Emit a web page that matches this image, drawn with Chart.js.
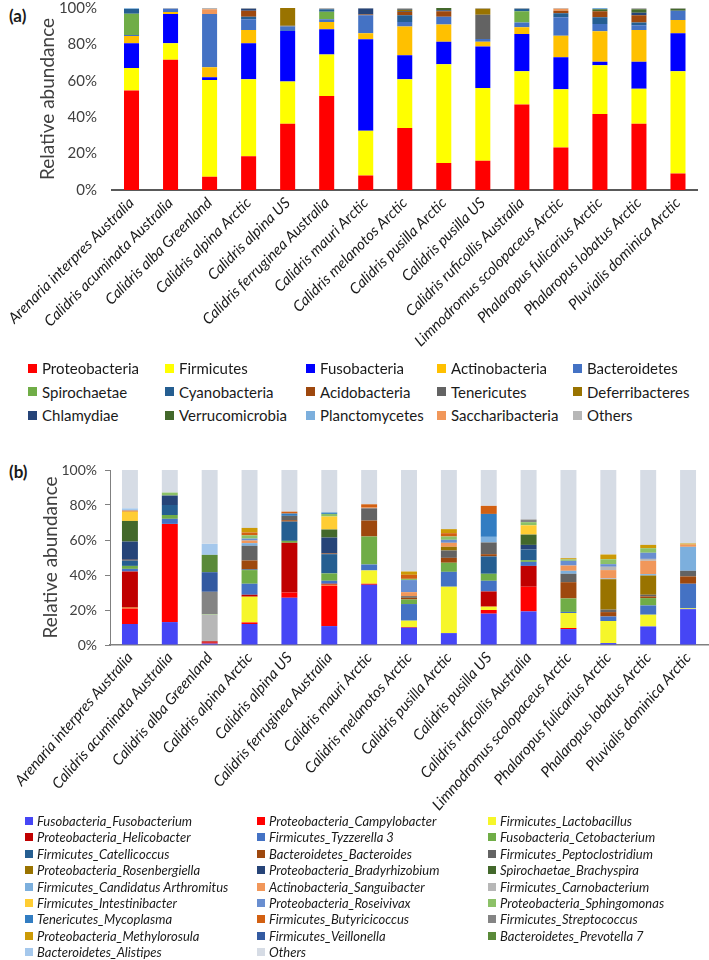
<!DOCTYPE html>
<html>
<head>
<meta charset="utf-8">
<script src="https://cdn.jsdelivr.net/npm/chart.js@4.4.0/dist/chart.umd.min.js"></script>
<style>
  body { margin:0; background:#fff; width:709px; height:960px; position:relative; overflow:hidden;
         font-family:Lato, "Open Sans", sans-serif; color:#1a1a1a; }
  canvas { position:absolute; left:0; }
  .tag { position:absolute; left:9px; font-weight:bold; font-size:17px; line-height:1; }
  .item { position:absolute; display:flex; align-items:center; white-space:nowrap; transform:translateY(-50%); }
  .item span { display:inline-block; flex:none; }
  .legA { font-size:15px; }
  .legA span { width:9px; height:9px; margin-right:5px; }
  .legB { font-size:13px; font-style:italic; }
  .legB span { width:8px; height:8px; margin-right:4px; }
</style>
</head>
<body>
<div class="tag" style="top:7px">(a)</div>
<canvas id="chartA" width="709" height="375" style="top:0"></canvas>
<div id="legendA"></div>
<div class="tag" style="top:463px">(b)</div>
<canvas id="chartB" width="709" height="365" style="top:455px"></canvas>
<div id="legendB"></div>
<script>
/* ---------- categories ---------- */
const birds = [
  "Arenaria interpres Australia", "Calidris acuminata Australia", "Calidris alba Greenland",
  "Calidris alpina Arctic", "Calidris alpina US", "Calidris ferruginea Australia",
  "Calidris mauri Arctic", "Calidris melanotos Arctic", "Calidris pusilla Arctic",
  "Calidris pusilla US", "Calidris ruficollis Australia", "Limnodromus scolopaceus Arctic",
  "Phalaropus fulicarius Arctic", "Phalaropus lobatus Arctic", "Pluvialis dominica Arctic"
];
const yTicks = [0, 20, 40, 60, 80, 100];

/* ---------- (a) phyla, % per bird ---------- */
const proteobacteria   = [54.7, 71.5, 7.3, 18.5, 36.4, 51.7, 7.9, 34.0, 14.8, 16.1, 47.0, 23.4, 41.7, 36.4, 9.0];
const firmicutes       = [12.4, 9.1, 53.2, 42.4, 23.2, 22.7, 24.6, 26.9, 54.3, 40.0, 18.3, 32.0, 26.9, 19.2, 56.3];
const fusobacteria     = [13.5, 16.1, 1.5, 19.7, 27.8, 13.9, 50.3, 13.1, 12.3, 22.7, 20.4, 17.5, 1.8, 14.8, 20.8];
const actinobacteria   = [4.0, 1.1, 5.5, 7.3, 0, 4.0, 3.3, 15.8, 9.6, 2.6, 3.7, 11.9, 16.8, 17.5, 7.3];
const bacteroidetes    = [0.5, 1.8, 29.2, 5.9, 2.4, 1.5, 9.9, 2.5, 4.2, 1.6, 2.6, 10.1, 4.0, 2.6, 5.1];
const spirochaetae     = [11.8, 0, 0, 0, 0, 4.2, 0, 0, 0, 0, 6.2, 0, 0, 0, 0];
const cyanobacteria    = [2.6, 0, 0, 1.4, 0, 1.3, 0, 3.7, 0, 0, 1.4, 2.2, 3.7, 1.5, 0];
const acidobacteria    = [0, 0, 0, 3.3, 0, 0, 0.4, 1.8, 3.0, 0, 0, 1.4, 3.3, 4.0, 0];
const tenericutes      = [0, 0, 0, 0, 0.5, 0, 0, 0.5, 0, 13.3, 0, 0, 0, 0, 0];
const deferribacteres  = [0, 0, 0, 0, 9.7, 0, 0, 0.7, 0, 3.3, 0, 0, 0, 0, 0];
const chlamydiae       = [0, 0, 0, 1.1, 0, 0, 3.3, 0.5, 0.6, 0, 0, 0, 0, 1.4, 0];
const verrucomicrobia  = [0, 0, 0, 0, 0, 0, 0, 0, 1.2, 0, 0, 0, 1.1, 1.9, 1.1];
const planctomycetes   = [0.3, 0, 0, 0, 0, 0, 0, 0, 0, 0, 0, 0, 0.7, 0, 0];
const saccharibacteria = [0, 0, 2.6, 0, 0, 0, 0, 0, 0, 0, 0, 1.1, 0, 0, 0];
const othersA          = [0.2, 0.4, 0.7, 0.4, 0, 0.7, 0.3, 0.5, 0, 0.4, 0.4, 0.4, 0, 0.7, 0.4];

const phylumNames = ["Proteobacteria", "Firmicutes", "Fusobacteria", "Actinobacteria", "Bacteroidetes",
  "Spirochaetae", "Cyanobacteria", "Acidobacteria", "Tenericutes", "Deferribacteres",
  "Chlamydiae", "Verrucomicrobia", "Planctomycetes", "Saccharibacteria", "Others"];
const phylumSeries = [proteobacteria, firmicutes, fusobacteria, actinobacteria, bacteroidetes,
  spirochaetae, cyanobacteria, acidobacteria, tenericutes, deferribacteres,
  chlamydiae, verrucomicrobia, planctomycetes, saccharibacteria, othersA];

/* ---------- (b) genera, % per bird ---------- */
const fusobacterium    = [12.0, 13.1, 0.8, 12.0, 27.0, 10.8, 34.4, 9.9, 6.8, 17.9, 19.2, 9.1, 1.1, 10.6, 20.5];
const campylobacter    = [8.9, 56.1, 0.5, 0.9, 3.0, 23.2, 0.6, 0.4, 0, 2.1, 14.1, 0.6, 0, 0, 0];
const lactobacillus    = [0.4, 0, 0, 14.7, 0, 0.4, 7.6, 3.6, 26.5, 1.9, 0, 8.6, 12.6, 6.7, 0.4];
const helicobacter     = [20.7, 0, 0.8, 1.1, 28.4, 0.6, 0, 0, 0, 8.7, 11.9, 0, 0, 0, 0];
const tyzzerella       = [1.5, 2.9, 0, 6.3, 0, 1.7, 3.4, 9.5, 8.5, 6.1, 2.3, 0.6, 2.6, 5.3, 14.1];
const cetobacterium    = [1.7, 2.2, 0, 7.8, 1.1, 4.2, 16.0, 2.6, 5.2, 4.0, 1.0, 7.7, 0, 4.2, 0];
const catellicoccus    = [3.1, 5.7, 0, 0.4, 11.0, 11.0, 0, 0, 0, 9.9, 6.1, 0, 0, 0, 0];
const bacteroides      = [0.4, 0, 0, 5.1, 0.8, 0.4, 9.1, 1.0, 2.8, 1.3, 0, 9.3, 2.5, 1.0, 4.2];
const peptoclostridium = [0, 0, 0, 8.4, 2.5, 0, 7.0, 0.9, 4.2, 6.7, 0, 4.8, 1.4, 0.9, 3.2];
const rosenbergiella   = [0, 0, 0, 0, 0, 0, 0, 0, 2.1, 0, 0, 0, 17.4, 11.0, 0];
const bradyrhizobium   = [10.4, 5.4, 0, 0, 0, 9.1, 0, 0, 0, 0, 2.6, 0, 0, 0, 0];
const brachyspira      = [11.8, 0, 0, 0, 0, 4.6, 0, 0, 0, 0, 5.9, 0, 0, 0, 0];
const arthromitus      = [0, 0, 0, 1.5, 0, 0, 0, 0, 0, 3.2, 0, 1.7, 0.4, 0.8, 13.7];
const sanguibacter     = [0, 0, 0, 1.5, 0, 0, 0.4, 2.3, 2.3, 0, 0, 3.0, 4.8, 7.6, 1.3];
const carnobacterium   = [0, 0, 15.2, 0, 0, 0, 0, 0, 0, 0, 0, 0, 1.9, 1.1, 0];
const intestinibacter  = [5.3, 0, 0, 0, 0, 7.4, 0, 0, 0, 0, 5.3, 0, 0, 0, 0];
const roseivivax       = [0, 0, 0, 1.1, 0, 0, 0, 6.9, 1.7, 0, 0, 2.7, 1.5, 3.5, 0];
const sphingomonas     = [0, 1.7, 0.3, 1.9, 0, 1.5, 0, 0.7, 1.9, 0, 1.8, 0.8, 2.8, 2.6, 0];
const mycoplasma       = [0, 0, 0, 0, 1.3, 0.8, 0, 0, 0, 13.1, 0, 0, 0, 0, 0];
const butyricicoccus   = [0.6, 0, 0, 1.6, 1.1, 0, 1.9, 2.3, 1.9, 4.6, 0, 0, 0, 0, 0];
const streptococcus    = [0, 0, 12.8, 0, 0, 0, 0, 0, 0, 0, 1.5, 0, 0, 0, 0];
const methylorosula    = [0, 0, 0, 2.6, 0, 0, 0, 1.9, 2.3, 0, 0, 0.7, 2.7, 1.9, 0.6];
const veillonella      = [0, 0, 11.2, 0, 0, 0, 0, 0, 0, 0, 0, 0, 0, 0, 0];
const prevotella       = [0, 0, 9.9, 0, 0, 0, 0, 0, 0, 0, 0, 0, 0, 0, 0];
const alistipes        = [1.3, 0, 6.3, 0, 0, 0, 0, 0, 0, 0, 0, 0, 0, 0, 0];
const othersB          = [21.9, 12.9, 42.2, 33.1, 23.8, 24.3, 19.6, 58.0, 33.8, 20.5, 28.3, 50.4, 48.3, 42.8, 42.0];

const genusNames = ["Fusobacteria_Fusobacterium", "Proteobacteria_Campylobacter", "Firmicutes_Lactobacillus",
  "Proteobacteria_Helicobacter", "Firmicutes_Tyzzerella 3", "Fusobacteria_Cetobacterium",
  "Firmicutes_Catellicoccus", "Bacteroidetes_Bacteroides", "Firmicutes_Peptoclostridium",
  "Proteobacteria_Rosenbergiella", "Proteobacteria_Bradyrhizobium", "Spirochaetae_Brachyspira",
  "Firmicutes_Candidatus Arthromitus", "Actinobacteria_Sanguibacter", "Firmicutes_Carnobacterium",
  "Firmicutes_Intestinibacter", "Proteobacteria_Roseivivax", "Proteobacteria_Sphingomonas",
  "Tenericutes_Mycoplasma", "Firmicutes_Butyricicoccus", "Firmicutes_Streptococcus",
  "Proteobacteria_Methylorosula", "Firmicutes_Veillonella", "Bacteroidetes_Prevotella 7",
  "Bacteroidetes_Alistipes", "Others"];
const genusSeries = [fusobacterium, campylobacter, lactobacillus, helicobacter, tyzzerella, cetobacterium,
  catellicoccus, bacteroides, peptoclostridium, rosenbergiella, bradyrhizobium, brachyspira,
  arthromitus, sanguibacter, carnobacterium, intestinibacter, roseivivax, sphingomonas,
  mycoplasma, butyricicoccus, streptococcus, methylorosula, veillonella, prevotella,
  alistipes, othersB];

/* ---------- palettes ---------- */
const phylumColors = ["#ff0000", "#ffff00", "#0000ff", "#ffc000", "#4472c4", "#70ad47", "#255e91",
  "#9e480e", "#636363", "#997300", "#264478", "#43682b", "#7cafdd", "#f1975a", "#b7b7b7"];
const genusColors = ["#4646f5", "#ff0000", "#f6f62a", "#c00000", "#4472c4", "#70ad47", "#255e91",
  "#9e480e", "#636363", "#997300", "#264478", "#43682b", "#7cafdd", "#f1975a", "#b7b7b7",
  "#ffcd33", "#698ed0", "#8cc168", "#327dc2", "#d26012", "#848484", "#cc9a06", "#335aa1",
  "#5a8a39", "#a5c8ec", "#d6dce5"];

/* ---------- helpers ---------- */
const $ = id => document.getElementById(id);
const FONT = "Lato";

function sets (names, series, colors, barPct) {
  return names.map((n, i) => ({
    label: n, data: series[i], backgroundColor: colors[i],
    borderWidth: 0, barPercentage: barPct, categoryPercentage: 1
  }));
}

function stackedChart (canvas, datasets, o) {
  return new Chart(canvas, {
    type: "bar",
    data: { labels: birds, datasets },
    options: {
      responsive: false, animation: false,
      layout: { padding: o.pad },
      plugins: { legend: { display: false }, tooltip: { enabled: false } },
      scales: {
        x: {
          stacked: true,
          grid: { display: false, drawTicks: false },
          border: { color: o.axisColor, width: o.axisWidth },
          ticks: { autoSkip: false, minRotation: o.rot, maxRotation: o.rot, padding: o.xPad,
                   color: "#1a1a1a", font: { family: FONT, size: o.xSize, style: "italic" } },
          afterFit: s => { s.height = o.xHeight; s.paddingLeft = 0; s.paddingRight = 0; }
        },
        y: {
          stacked: true, min: 0, max: 100,
          afterBuildTicks: s => { s.ticks = yTicks.map(v => ({ value: v })); },
          ticks: { callback: v => v + "%", padding: o.yPad, color: "#404040",
                   font: { family: FONT, size: o.ySize } },
          grid: o.yLine ? { drawOnChartArea: false, drawTicks: true, tickLength: 5, color: o.axisColor }
                        : { display: false, drawTicks: false },
          border: { display: o.yLine, color: o.axisColor, width: 1 },
          title: { display: true, text: "Relative abundance", color: "#404040",
                   font: { family: FONT, size: 19 }, padding: { top: o.titlePad, bottom: 0 } },
          afterFit: s => { s.width = o.yWidth; s.paddingTop = 0; s.paddingBottom = 0; }
        }
      }
    }
  });
}

function legend (el, names, colors, cls, colX, row0, rowH) {
  const cols = colX.length;
  el.innerHTML = names.map((n, i) =>
    `<div class="item ${cls}" style="left:${colX[i % cols]}px;top:${row0 + Math.floor(i / cols) * rowH}px">` +
    `<span style="background:${colors[i]}"></span>${n}</div>`).join("");
}

/* ---------- draw ---------- */
stackedChart($("chartA"), sets(phylumNames, phylumSeries, phylumColors, 0.385), {
  pad: { top: 8, left: 0, right: 11.5, bottom: 0 },
  axisColor: "#595959", axisWidth: 2, rot: 45, xPad: 4, xSize: 15, xHeight: 185,
  ySize: 15, yPad: 15, yLine: false, titlePad: 36, yWidth: 112
});
legend($("legendA"), phylumNames, phylumColors, "legA", [28, 165, 306, 437, 573], 368, 23.5);

stackedChart($("chartB"), sets(genusNames, genusSeries, genusColors, 0.40), {
  pad: { top: 15, left: 0, right: 1, bottom: 0 },
  axisColor: "#808080", axisWidth: 1.5, rot: 49, xPad: 4, xSize: 15, xHeight: 175,
  ySize: 14, yPad: 8, yLine: true, titlePad: 39, yWidth: 110
});
legend($("legendB"), genusNames, genusColors, "legB", [25, 257, 488], 821, 16.4);
</script>
</body>
</html>
